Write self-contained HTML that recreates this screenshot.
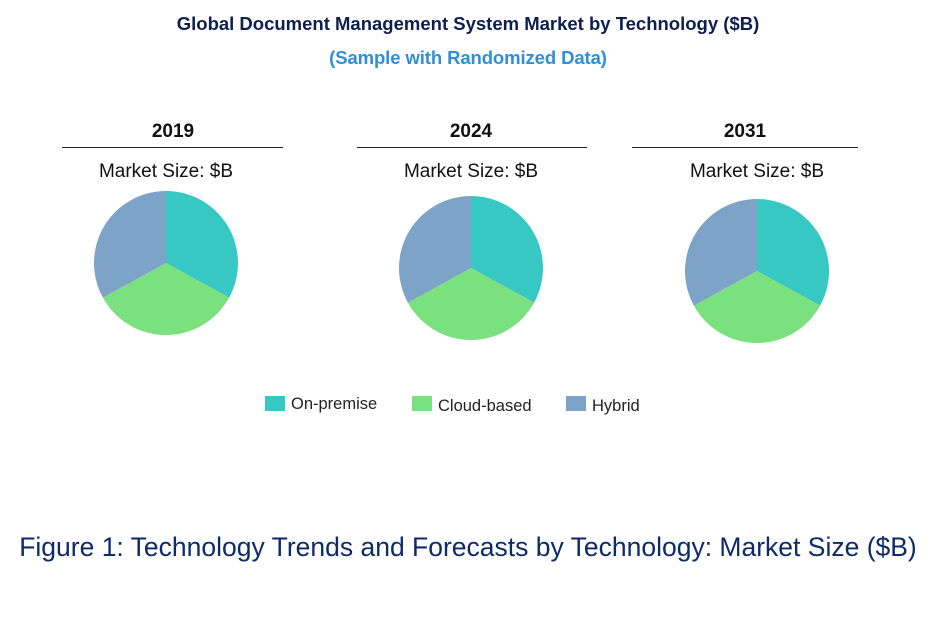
<!DOCTYPE html>
<html><head><meta charset="utf-8">
<style>
body{margin:0;width:936px;height:621px;background:#fff;font-family:"Liberation Sans",sans-serif;overflow:hidden;position:relative}
.t{position:absolute;white-space:nowrap}
</style></head>
<body>
<div class="t" style="left:0;width:936px;text-align:center;top:13px;font-size:18.5px;font-weight:bold;color:#0d1f4e;letter-spacing:0px">Global Document Management System Market by Technology ($B)</div>
<div class="t" style="left:0;width:936px;text-align:center;top:47px;font-size:18.5px;font-weight:bold;color:#2e8fd8;letter-spacing:-0.1px">(Sample with Randomized Data)</div>
<svg id="c" width="936" height="621" style="position:absolute;left:0;top:0"></svg>
<div class="t" style="left:0;width:936px;text-align:center;top:532px;font-size:26.5px;color:#0d2a6b">Figure 1: Technology Trends and Forecasts by Technology: Market Size ($B)</div>
<script>
const years=["2019","2024","2031"];
const categories=["On-premise","Cloud-based","Hybrid"];
const colors=["#38c8c4","#7be07e","#7da3c8"];
const values2019=[33,34,33];
const values2024=[33,34,33];
const values2031=[33,34,33];
const series=[values2019,values2024,values2031];
const cx=[166,471,757],cy=[263,268,271],lineX=[[62,283],[357,587],[632,858]],yearX=[173,471,745];
const svg=document.getElementById('c');const NS="http://www.w3.org/2000/svg";
function mk(t,a){const e=document.createElementNS(NS,t);for(const k in a)e.setAttribute(k,a[k]);svg.appendChild(e);return e;}
const r=72;
years.forEach((y,i)=>{
  const tx=mk('text',{x:yearX[i],y:137,'text-anchor':'middle','font-size':19,'font-weight':'bold',fill:'#111','font-family':'Liberation Sans'});tx.textContent=y;
  
  
  const ln=mk('line',{x1:lineX[i][0],x2:lineX[i][1],y1:147.5,y2:147.5,stroke:'#222','stroke-width':1});
  
  
  const ms=mk('text',{x:cx[i],y:177,'text-anchor':'middle','font-size':19,fill:'#111','font-family':'Liberation Sans'});ms.textContent='Market Size: $B';
  
  
  const v=series[i],tot=v.reduce((a,b)=>a+b,0);let a0=0;
  v.forEach((val,j)=>{
    const a1=a0+val/tot*2*Math.PI;
    const p=(a)=>[cx[i]+r*Math.sin(a),cy[i]-r*Math.cos(a)];
    const [x0,y0]=p(a0),[x1,y1]=p(a1);
    const d=`M${cx[i]},${cy[i]} L${x0},${y0} A${r},${r} 0 ${a1-a0>Math.PI?1:0} 1 ${x1},${y1} Z`;
    const s=mk('path',{d:d,fill:colors[j]});
    
    
    a0=a1;
  });
});
const lx=[265,412,566];
categories.forEach((c,j)=>{
  const rc=mk('rect',{x:lx[j],y:396,width:20,height:15,fill:colors[j]});
  
  
  const t=mk('text',{x:lx[j]+26,y:409+(j?2:0),'font-size':16.5,fill:'#222','font-family':'Liberation Sans'});t.textContent=c;
  
  
});
</script>
</body></html>
